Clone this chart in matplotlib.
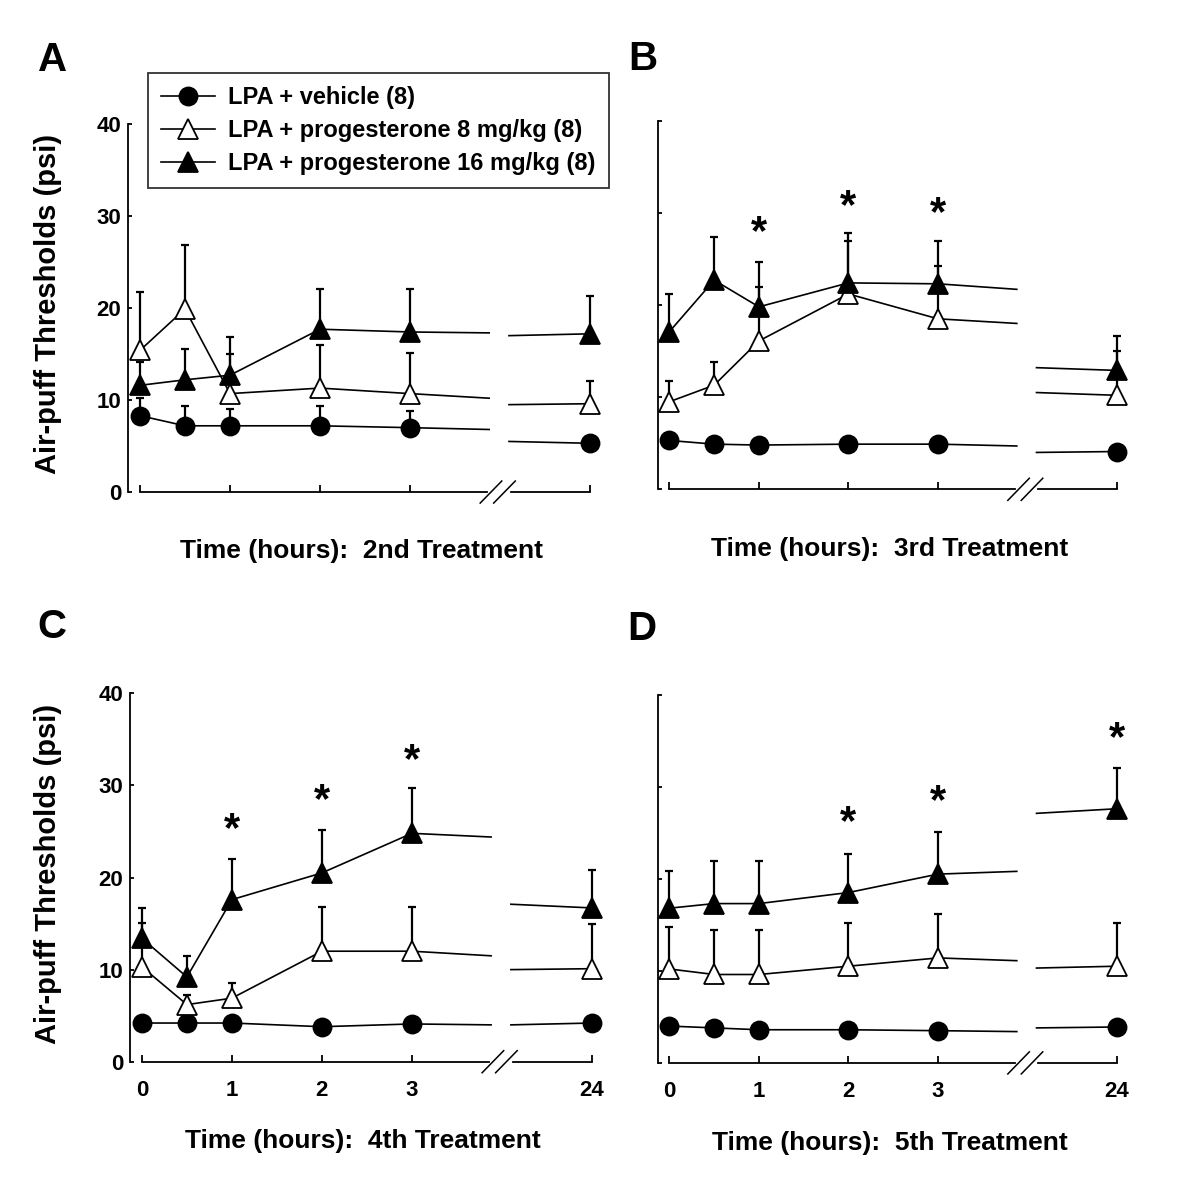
import matplotlib

matplotlib.use("Agg")
import matplotlib.pyplot as plt

plt.rcParams["font.family"] = ["Liberation Sans", "DejaVu Sans"]
plt.rcParams["font.weight"] = "bold"

# Time points (hours); 24 h sits after the axis break
times = [0, 0.5, 1, 2, 3, 24]
tick_times = [0, 1, 2, 3, 24]

labels = ["LPA + vehicle (8)", "LPA + progesterone 8 mg/kg (8)", "LPA + progesterone 16 mg/kg (8)"]
treatments = ["2nd", "3rd", "4th", "5th"]

# Panel A (2nd treatment): means, upper SEM, line value at both sides of the break
a_veh = [8.3, 7.2, 7.2, 7.2, 7.0, 5.3]
a_veh_sem = [1.9, 2.1, 1.8, 2.2, 1.8, 0.5]
a_veh_gap = [6.8, 5.5]
a_p8 = [15.4, 19.9, 10.7, 11.3, 10.7, 9.6]
a_p8_sem = [6.3, 7.0, 4.3, 4.7, 4.4, 2.5]
a_p8_gap = [10.2, 9.5]
a_p16 = [11.6, 12.2, 12.7, 17.7, 17.4, 17.2]
a_p16_sem = [2.5, 3.3, 4.1, 4.4, 4.7, 4.1]
a_p16_gap = [17.3, 17.0]
a_star_t = []
a_star_y = []

# Panel B (3rd treatment)
b_veh = [5.3, 4.9, 4.8, 4.9, 4.9, 4.1]
b_veh_sem = [0.5, 0.4, 0.4, 0.4, 0.4, 0.4]
b_veh_gap = [4.7, 4.0]
b_p8 = [9.5, 11.3, 16.1, 21.2, 18.5, 10.2]
b_p8_sem = [2.3, 2.5, 5.8, 5.8, 5.7, 4.8]
b_p8_gap = [18.0, 10.5]
b_p16 = [17.1, 22.7, 19.8, 22.4, 22.3, 12.9]
b_p16_sem = [4.1, 4.7, 4.9, 5.4, 4.7, 3.7]
b_p16_gap = [21.7, 13.2]
b_star_t = [1, 2, 3]
b_star_y = [27.8, 30.6, 29.9]

# Panel C (4th treatment)
c_veh = [4.2, 4.2, 4.2, 3.8, 4.1, 4.2]
c_veh_sem = [0.4, 0.4, 0.4, 0.4, 0.4, 0.4]
c_veh_gap = [4.0, 4.0]
c_p8 = [10.3, 6.2, 6.9, 12.0, 12.0, 10.1]
c_p8_sem = [4.8, 1.0, 1.6, 4.8, 4.8, 4.8]
c_p8_gap = [11.5, 10.0]
c_p16 = [13.4, 9.2, 17.6, 20.5, 24.8, 16.7]
c_p16_sem = [3.3, 2.3, 4.4, 4.7, 4.9, 4.1]
c_p16_gap = [24.4, 17.1]
c_star_t = [1, 2, 3]
c_star_y = [25.2, 28.3, 32.6]

# Panel D (5th treatment)
d_veh = [4.0, 3.8, 3.6, 3.6, 3.5, 3.9]
d_veh_sem = [0.4, 0.4, 0.4, 0.4, 0.4, 0.4]
d_veh_gap = [3.4, 3.8]
d_p8 = [10.2, 9.6, 9.6, 10.5, 11.4, 10.5]
d_p8_sem = [4.6, 4.8, 4.8, 4.7, 4.8, 4.7]
d_p8_gap = [11.1, 10.3]
d_p16 = [16.8, 17.3, 17.3, 18.5, 20.5, 27.6]
d_p16_sem = [4.0, 4.6, 4.6, 4.2, 4.6, 4.4]
d_p16_gap = [20.8, 27.1]
d_star_t = [2, 3, 24]
d_star_y = [26.0, 28.3, 35.2]


def xpos(t):
    # compressed axis: 24 h is drawn just after the break
    return t if t <= 3 else 5


BREAK_L, BREAK_R = 3.88, 4.1
STYLES = [
    dict(marker="o", mfc="black", ms=13),
    dict(marker="^", mfc="white", ms=15),
    dict(marker="^", mfc="black", ms=15),
]


def draw_panel(ax, series, stars, show_ticklabels, show_yticklabels):
    x = [xpos(t) for t in times]
    # error bars first (upper only)
    for mean, sem, gap in series:
        ax.errorbar(x, mean, yerr=[[0] * len(sem), sem], fmt="none", ecolor="black",
                    elinewidth=1.6, capsize=2.8, capthick=1.6, zorder=2)
    for (mean, sem, gap), st in zip(series, STYLES):
        ax.plot(x[:5] + [BREAK_L], mean[:5] + [gap[0]], color="black", lw=1.2, zorder=3)
        ax.plot([BREAK_R, x[5]], [gap[1], mean[5]], color="black", lw=1.2, zorder=3)
        ax.plot(x, mean, linestyle="none", marker=st["marker"], mfc=st["mfc"],
                mec="black", mew=1.3, ms=st["ms"], zorder=4)
    for t, y in zip(*stars):
        ax.text(xpos(t), y, "*", ha="center", va="center", fontsize=30, fontweight="bold")

    ax.set_xlim(-0.13, 5.15)
    ax.set_ylim(0, 40)
    for side in ("top", "right", "bottom"):
        ax.spines[side].set_visible(False)
    ax.spines["left"].set_linewidth(1.3)
    # split x axis line with break marks
    ax.plot([0, 3.86], [0, 0], color="black", lw=1.3, clip_on=False)
    ax.plot([4.12, 5], [0, 0], color="black", lw=1.3, clip_on=False)
    for x0 in (3.78, 3.93):
        ax.plot([x0, x0 + 0.24], [-1.2, 1.2], color="black", lw=1.1, clip_on=False)

    ax.set_yticks([0, 10, 20, 30, 40])
    ax.set_xticks([xpos(t) for t in tick_times])
    ax.tick_params(axis="y", direction="in", length=3, width=1.3, labelsize=16, pad=5)
    ax.tick_params(axis="x", direction="in", length=5, width=1.3, labelsize=16, pad=13)
    if show_ticklabels:
        ax.set_xticklabels([str(t) for t in tick_times])
    else:
        ax.set_xticklabels([])
    if not show_yticklabels:
        ax.set_yticklabels([])


fig = plt.figure(figsize=(12, 11.94), dpi=100)
positions = [
    [0.1069, 0.5879, 0.396, 0.3082],
    [0.5481, 0.5902, 0.394, 0.3087],
    [0.1085, 0.1108, 0.396, 0.3085],
    [0.5481, 0.1098, 0.394, 0.3085],
]
panels = [
    ([(a_veh, a_veh_sem, a_veh_gap), (a_p8, a_p8_sem, a_p8_gap), (a_p16, a_p16_sem, a_p16_gap)], (a_star_t, a_star_y)),
    ([(b_veh, b_veh_sem, b_veh_gap), (b_p8, b_p8_sem, b_p8_gap), (b_p16, b_p16_sem, b_p16_gap)], (b_star_t, b_star_y)),
    ([(c_veh, c_veh_sem, c_veh_gap), (c_p8, c_p8_sem, c_p8_gap), (c_p16, c_p16_sem, c_p16_gap)], (c_star_t, c_star_y)),
    ([(d_veh, d_veh_sem, d_veh_gap), (d_p8, d_p8_sem, d_p8_gap), (d_p16, d_p16_sem, d_p16_gap)], (d_star_t, d_star_y)),
]
axes = []
for i, (pos, (series, stars)) in enumerate(zip(positions, panels)):
    ax = fig.add_axes(pos)
    draw_panel(ax, series, stars, show_ticklabels=i >= 2, show_yticklabels=i % 2 == 0)
    axes.append(ax)

# legend (panel A)
handles = [
    plt.Line2D([], [], color="black", lw=1.2, marker=st["marker"], mfc=st["mfc"], mec="black",
               mew=1.3, ms=st["ms"])
    for st in STYLES
]
leg = axes[0].legend(handles, labels, loc="upper left", bbox_to_anchor=(148 / 1200, 1 - 73 / 1194),
                     bbox_transform=fig.transFigure, frameon=True, fancybox=False, fontsize=17,
                     handlelength=2.3, handletextpad=0.55, labelspacing=0.42, borderpad=0.55,
                     borderaxespad=0)
leg.get_frame().set_edgecolor("black")
leg.get_frame().set_linewidth(1.3)

# panel letters
for letter, (x, y) in zip("ABCD", [(53, 71), (643, 70), (52, 638), (642, 640)]):
    fig.text(x / 1200, 1 - y / 1194, letter, ha="center", va="baseline", fontsize=29, fontweight="bold")

# axis titles
for ax, tr, yc in zip(axes, treatments, [551, 549, 1141, 1143]):
    p = ax.get_position()
    fig.text(p.x0 + 0.49 * p.width, 1 - yc / 1194, f"Time (hours):  {tr} Treatment",
             ha="center", va="center", fontsize=19, fontweight="bold")
for ax in (axes[0], axes[2]):
    p = ax.get_position()
    fig.text(48 / 1200, p.y0 + 0.51 * p.height, "Air-puff Thresholds (psi)", rotation=90,
             ha="center", va="center", fontsize=21, fontweight="bold")

fig.savefig("out.png", dpi=100, facecolor="white")
